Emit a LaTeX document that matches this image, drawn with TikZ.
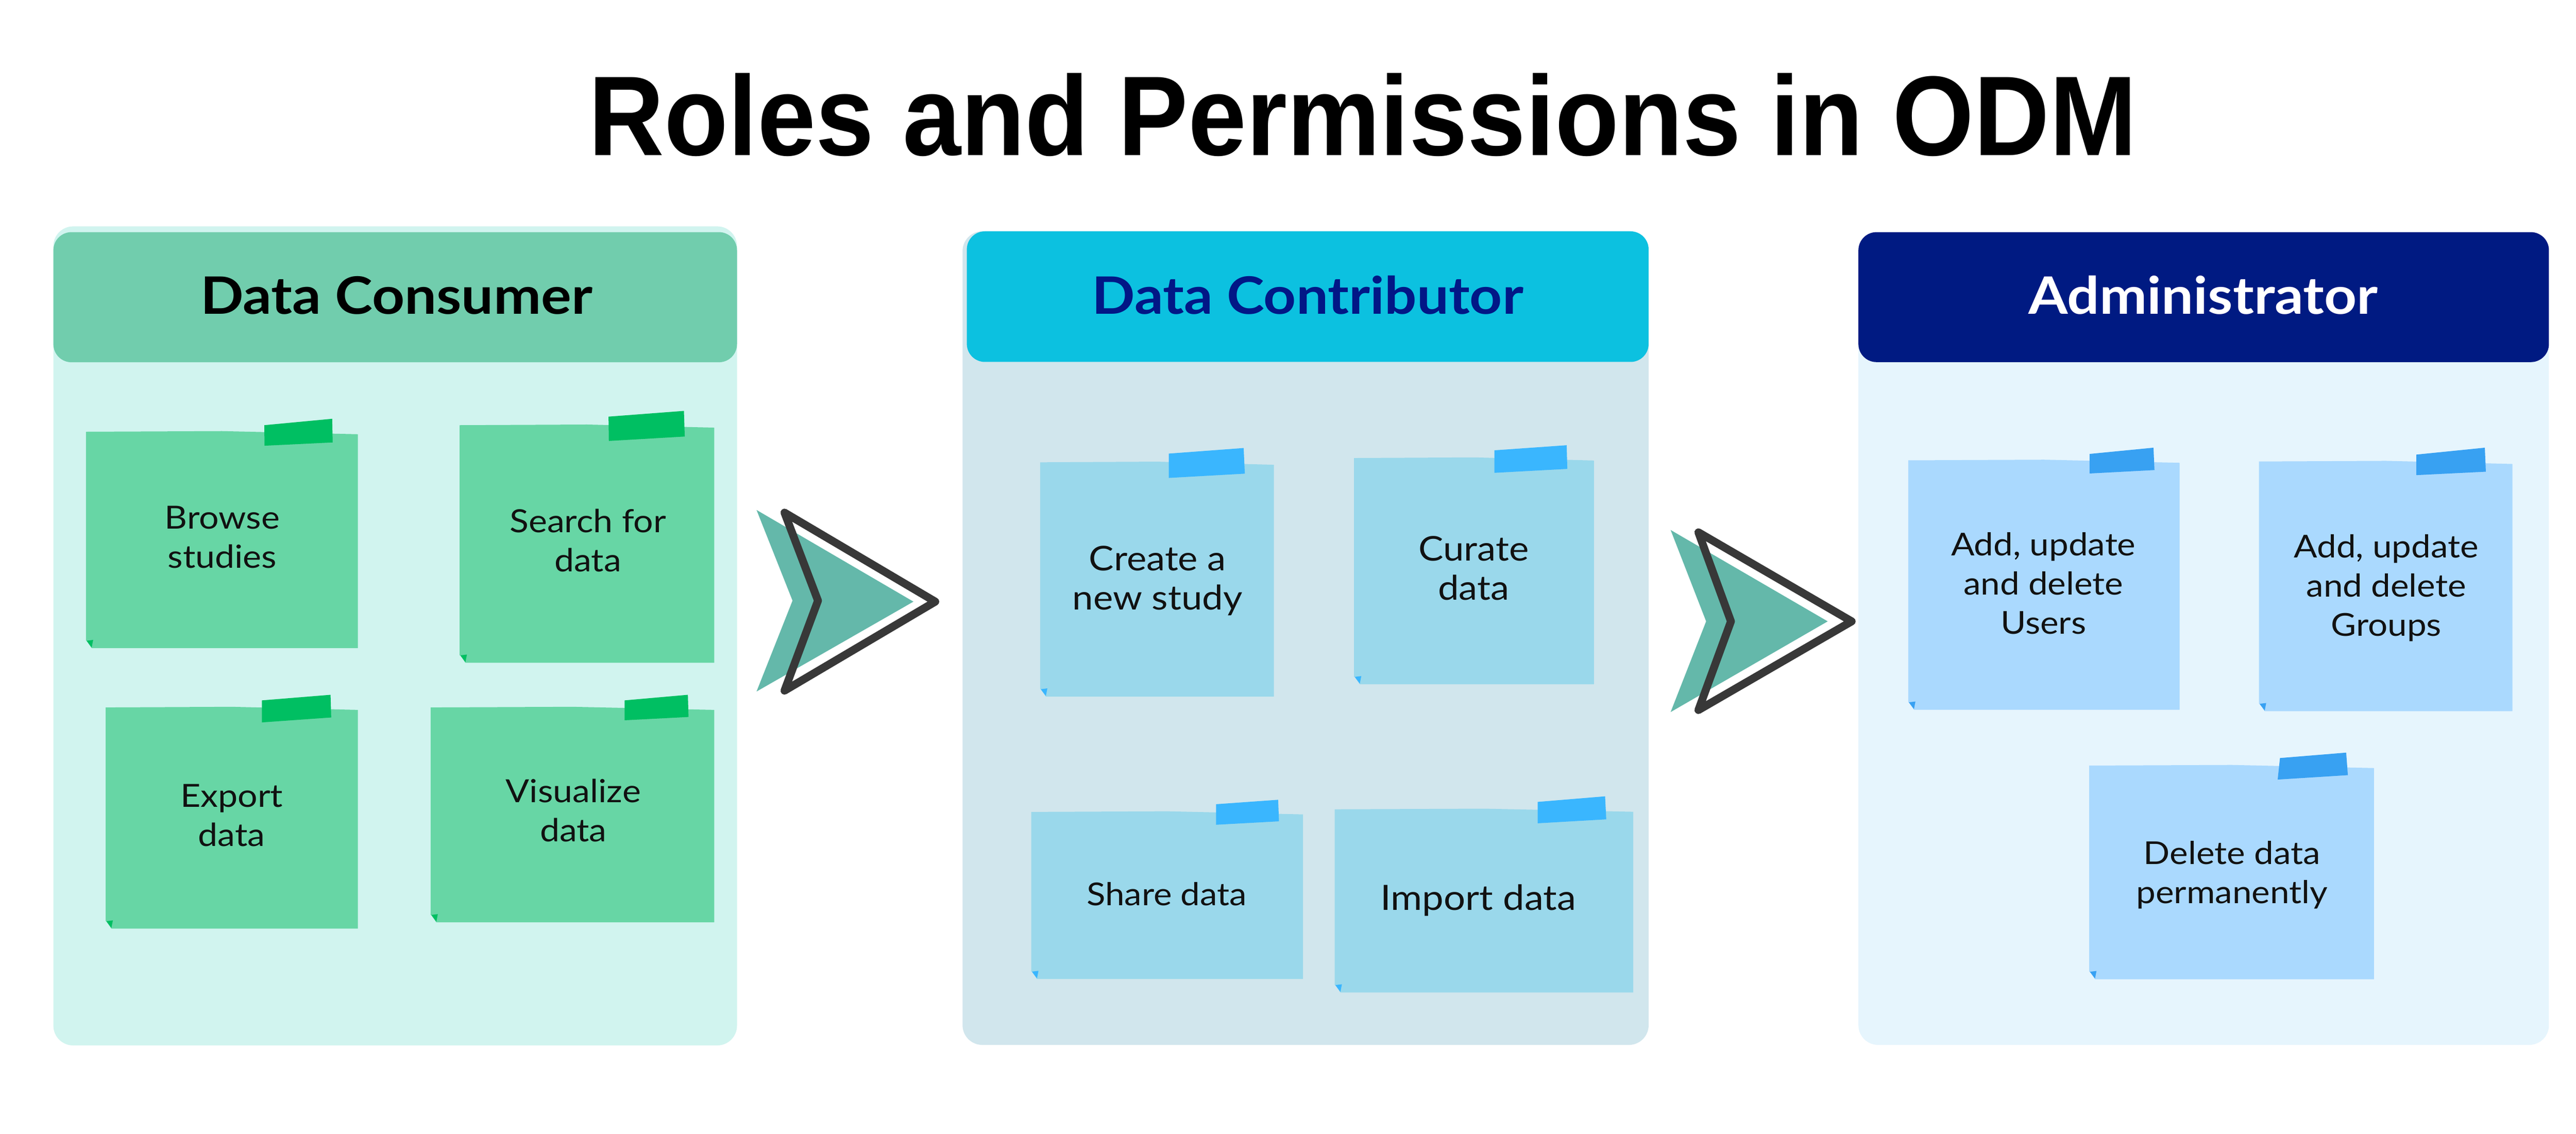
\documentclass[tikz,border=0pt]{standalone}
\usepackage{fontspec}
\usepackage{graphicx}
\setmainfont{Lato}[FakeStretch=1.1]
\newfontfamily\titlefont{Liberation Sans}
\definecolor{bgA}{HTML}{D1F4EF}
\definecolor{headA}{HTML}{71CDAD}
\definecolor{noteA}{HTML}{67D6A5}
\definecolor{tapeA}{HTML}{00BF62}
\definecolor{bgB}{HTML}{D1E6ED}
\definecolor{headB}{HTML}{0CC1E0}
\definecolor{noteB}{HTML}{9AD8EB}
\definecolor{tapeB}{HTML}{3AB6FE}
\definecolor{bgC}{HTML}{E6F5FD}
\definecolor{headC}{HTML}{001A82}
\definecolor{noteC}{HTML}{AAD9FE}
\definecolor{tapeC}{HTML}{38A1F2}
\definecolor{navytext}{HTML}{021786}
\definecolor{arrteal}{HTML}{64B8AA}
\definecolor{arrdark}{HTML}{383838}
\definecolor{inktext}{HTML}{111111}
\newcommand\notelines[1]{\begin{tabular}[t]{@{}c@{}}#1\end{tabular}}
\newcommand\nfs[1]{\fontsize{#1}{23.8}\selectfont}
% #1 x1, #2 y1, #3 x2, #4 y2, #5 note colour, #6 tape colour
\newcommand\stickynote[6]{%
  \fill[#5] (#1,#2) -- ({(#1+#3)/2},{#2-0.4}) -- (#3,{#2+1.5}) -- (#3,#4)
     -- ({#1+3.5},#4) -- ({#1+0.4},{#4-4.5}) -- (#1,{#4-4.5}) -- cycle;
  \fill[#6] ({#1+0.4},{#4-4.5}) -- ({#1+4.4},{#4-5}) -- ({#1+3.5},{#4-0.4}) -- cycle;
}
% tape: TL, TR, BR, BL x/y, colour
\newcommand\tape[9]{%
  \fill[#9] (#1,#2) -- (#3,#4) -- (#5,#6) -- (#7,#8) -- cycle;
}
\begin{document}
\begin{tikzpicture}[x=1pt,y=-1pt,
  notetext/.style={anchor=base, inner sep=0pt, text=inktext, font=\nfs{19.4}},
  headtext/.style={anchor=base, inner sep=0pt,
     font=\bfseries\fontsize{31.4}{34}\selectfont},
  arrline/.style={draw=arrdark, line width=4.8pt, line join=round},
]
\useasboundingbox (0,0) rectangle (1568,690);
\fill[white] (0,0) rectangle (1568,690);

% title
\node[anchor=base, inner sep=0pt, font=\titlefont\bfseries\fontsize{69}{72}\selectfont]
  (title) at (829.5,94.5) {\scalebox{0.924}[1]{Roles and Permissions in ODM}};

% panels
\fill[bgA, rounded corners=12pt] (32.5,137.8) rectangle (448.6,636.3);
\fill[headA, rounded corners=11pt] (32.5,141.3) rectangle (448.6,220.5);
\node[headtext, text=black] (hA) at (241.3,191) {Data Consumer};

\fill[bgB, rounded corners=12pt] (585.9,140.8) rectangle (1003.5,636);
\fill[headB, rounded corners=11pt] (588.5,140.8) rectangle (1003.5,220.3);
\node[headtext, text=navytext] (hB) at (796,191) {Data Contributor};

\fill[bgC, rounded corners=12pt] (1131.2,141.3) rectangle (1551.5,636);
\fill[headC, rounded corners=11pt] (1131.2,141.3) rectangle (1551.5,220.4);
\node[headtext, text=white] (hC) at (1341,191) {Administrator};

% arrows
\fill[arrteal] (460.5,310.4) -- (556,366.2) -- (460.5,420.9) -- (482.4,365.6) -- cycle;
\draw[arrline] (477.5,312) -- (569.3,366.2) -- (477.5,420.4) -- (497.9,365.6) -- cycle;
\fill[arrteal] (1016.9,322.6) -- (1112.5,378.2) -- (1016.9,433.4) -- (1038.5,378.2) -- cycle;
\draw[arrline] (1033.8,324) -- (1127.1,378.2) -- (1033.8,432.2) -- (1053.6,378.2) -- cycle;

% panel A notes
\stickynote{52.3}{262.8}{217.8}{394.5}{noteA}{tapeA}
\tape{160.9}{258.8}{202.2}{254.9}{202.5}{269.3}{161}{271.3}{tapeA}
\node[notetext] (nBrowse) at (135.3,322) {\notelines{Browse\\studies}};

\stickynote{279.8}{258.8}{434.8}{403.4}{noteA}{tapeA}
\tape{370.4}{253.6}{416.3}{250.1}{416.8}{265.7}{370.6}{268.4}{tapeA}
\node[notetext] (nSearch) at (357.9,324) {\notelines{Search for\\data}};

\stickynote{64.3}{430.6}{217.8}{565.2}{noteA}{tapeA}
\tape{159.4}{426.3}{201.2}{422.9}{201.6}{436.7}{159.4}{439.7}{tapeA}
\node[notetext] (nExport) at (141,491.4) {\notelines{Export\\data}};

\stickynote{262.1}{430.6}{434.8}{561.4}{noteA}{tapeA}
\tape{380.2}{426.3}{418.7}{422.9}{419.1}{436.4}{380.2}{438.4}{tapeA}
\node[notetext] (nVisual) at (349,488.5) {\notelines{Visualize\\data}};

% panel B notes
\stickynote{633.1}{281.4}{775.4}{424}{noteB}{tapeB}
\tape{711.4}{276.1}{757}{272.7}{757.7}{288.3}{711.4}{290.9}{tapeB}
\node[notetext, font=\nfs{20.7}] (nCreate) at (704.6,347.4) {\notelines{Create a\\new study}};

\stickynote{824.2}{278.8}{970.2}{416.5}{noteB}{tapeB}
\tape{909.6}{274.1}{953.6}{271}{954}{285.4}{909.6}{287.8}{tapeB}
\node[notetext, font=\nfs{20.7}] (nCurate) at (897,341.3) {\notelines{Curate\\data}};

\stickynote{627.7}{494.2}{793.1}{595.9}{noteB}{tapeB}
\tape{740.2}{489.5}{778}{486.8}{778.5}{499.9}{740.2}{502}{tapeB}
\node[notetext, font=\nfs{19.2}] (nShare) at (710.2,551.3) {Share data};

\stickynote{812.4}{492.6}{994.1}{604.1}{noteB}{tapeB}
\tape{936}{488.1}{977}{484.7}{977.7}{498.7}{936}{501.1}{tapeB}
\node[notetext, font=\nfs{21.2}] (nImport) at (899.8,554) {Import data};

% panel C notes
\stickynote{1161.5}{280.2}{1326.7}{432}{noteC}{tapeC}
\tape{1271.9}{276.3}{1310.8}{272.5}{1311.4}{286.1}{1271.9}{288.2}{tapeC}
\node[notetext, font=\nfs{19.2}] (nUsers) at (1243.8,338.2) {\notelines{Add, update\\and delete\\Users}};

\stickynote{1375}{280.9}{1529.3}{432.9}{noteC}{tapeC}
\tape{1470.8}{276.7}{1512.5}{272.5}{1513.1}{287.1}{1470.8}{289.2}{tapeC}
\node[notetext, font=\nfs{19.2}] (nGroups) at (1452.5,339.5) {\notelines{Add, update\\and delete\\Groups}};

\stickynote{1271.7}{466}{1445}{596}{noteC}{tapeC}
\tape{1387.8}{461.4}{1428.1}{458.1}{1429.1}{471.8}{1386.4}{474.5}{tapeC}
\node[notetext, font=\nfs{19.2}] (nDelete) at (1358.6,526) {\notelines{Delete data\\permanently}};
\end{tikzpicture}
\end{document}
